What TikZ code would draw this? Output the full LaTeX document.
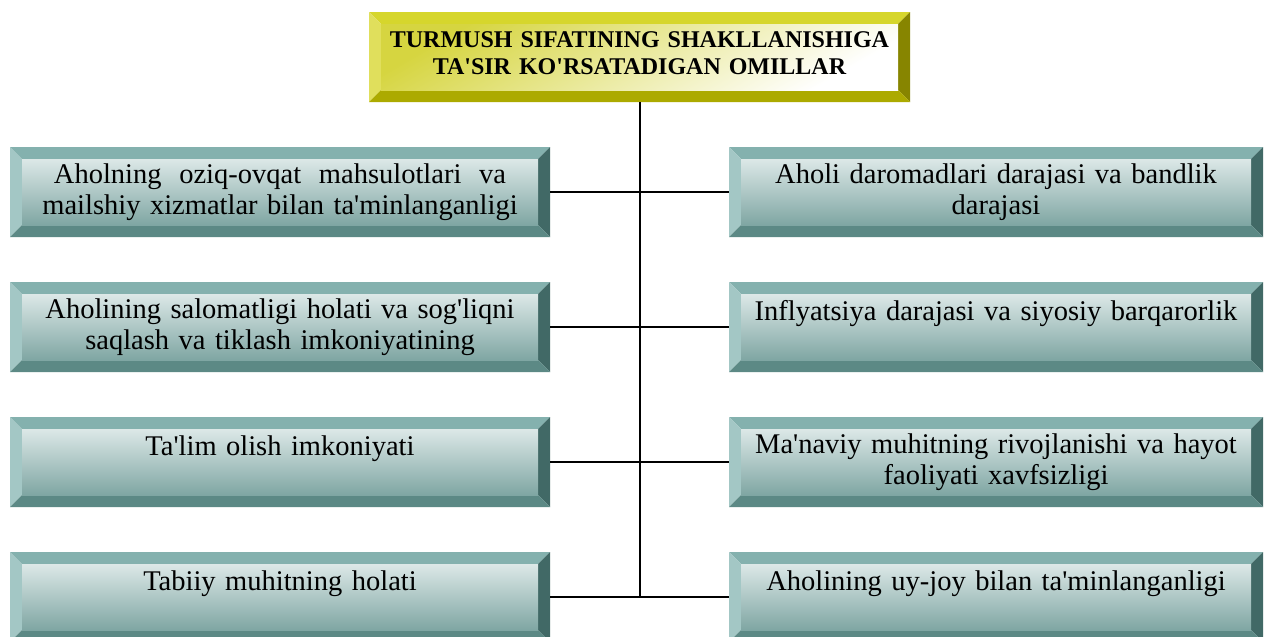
\documentclass[tikz,border=0pt]{standalone}
\usepackage{fontspec}
\setmainfont{Liberation Serif}[Ligatures=TeXOff]
\definecolor{tT}{HTML}{84B1AE}
\definecolor{tL}{HTML}{A3C7C5}
\definecolor{tR}{HTML}{416966}
\definecolor{tB}{HTML}{5C8985}
\definecolor{tF1}{HTML}{DCE8E7}
\definecolor{tF2}{HTML}{7FA6A3}
\definecolor{yT}{HTML}{D6D62C}
\definecolor{yL}{HTML}{E0DF5C}
\definecolor{yR}{HTML}{878500}
\definecolor{yB}{HTML}{ACAA00}
\definecolor{yF1}{HTML}{D6D540}
\newcommand\bevelpic[5]{%
  \fill[#1] (path picture bounding box.north west) -- (path picture bounding box.north east)
    -- ([shift={(-12pt,-12pt)}]path picture bounding box.north east)
    -- ([shift={(12pt,-12pt)}]path picture bounding box.north west) -- cycle;
  \fill[#2] (path picture bounding box.north west) -- (path picture bounding box.south west)
    -- ([shift={(12pt,12pt)}]path picture bounding box.south west)
    -- ([shift={(12pt,-12pt)}]path picture bounding box.north west) -- cycle;
  \fill[#3] (path picture bounding box.north east) -- (path picture bounding box.south east)
    -- ([shift={(-12pt,12pt)}]path picture bounding box.south east)
    -- ([shift={(-12pt,-12pt)}]path picture bounding box.north east) -- cycle;
  \fill[#4] (path picture bounding box.south west) -- (path picture bounding box.south east)
    -- ([shift={(-12pt,12pt)}]path picture bounding box.south east)
    -- ([shift={(12pt,12pt)}]path picture bounding box.south west) -- cycle;
  \shade[#5] ([shift={(12pt,12pt)}]path picture bounding box.south west)
    rectangle ([shift={(-12pt,-12pt)}]path picture bounding box.north east);
}
\tikzset{
  tealbox/.style={inner sep=0pt, align=center, font=\fontsize{28.5}{31}\selectfont,
    minimum height=90pt,
    path picture={\bevelpic{tT}{tL}{tR}{tB}{top color=tF1, middle color=white, bottom color=tF2}}},
  leftbox/.style={tealbox, minimum width=540pt, text width=516pt},
  rightbox/.style={tealbox, minimum width=534pt, text width=510pt},
  titlebox/.style={inner sep=0pt, align=center, font=\fontsize{24}{27}\selectfont\bfseries,
    minimum width=541pt, minimum height=90pt, text width=516pt,
    path picture={\bevelpic{yT}{yL}{yR}{yB}{shading=axis, top color=yF1, bottom color=white, shading angle=30}}},
  link/.style={draw=black, line width=1.8pt}
}
\begin{document}
\begin{tikzpicture}[x=1pt, y=-1pt]
\clip (0,0) rectangle (1264,637);
\fill[white] (0,0) rectangle (1264,637);
\node[titlebox] (T) at (639.5,57) {TURMUSH SIFATINING SHAKLLANISHIGA\\TA'SIR KO'RSATADIGAN OMILLAR\\[-20pt]\mbox{}};
\node[leftbox] (L1) at (280,192) {\makebox[452pt]{Aholning\hfill oziq-ovqat\hfill mahsulotlari\hfill va}\\mailshiy xizmatlar bilan ta'minlanganligi};
\node[leftbox] (L2) at (280,327) {Aholining salomatligi holati va sog'liqni\\saqlash va tiklash imkoniyatining};
\node[leftbox] (L3) at (280,462) {Ta'lim olish imkoniyati\\[2pt]\mbox{}};
\node[leftbox] (L4) at (280,597) {Tabiiy muhitning holati\\[2pt]\mbox{}};
\node[rightbox] (R1) at (996,192) {Aholi daromadlari darajasi va bandlik\\darajasi};
\node[rightbox] (R2) at (996,327) {Inflyatsiya darajasi va siyosiy barqarorlik\\[2pt]\mbox{}};
\node[rightbox] (R3) at (996,462) {Ma'naviy muhitning rivojlanishi va hayot\\faoliyati xavfsizligi};
\node[rightbox] (R4) at (996,597) {Aholining uy-joy bilan ta'minlanganligi\\[2pt]\mbox{}};
\coordinate (vend) at (640,597);
\draw[link] (T.south -| vend) -- (vend);
\draw[link] (L1.east) -- (R1.west);
\draw[link] (L2.east) -- (R2.west);
\draw[link] (L3.east) -- (R3.west);
\draw[link] (L4.east) -- (R4.west);
\end{tikzpicture}
\end{document}
